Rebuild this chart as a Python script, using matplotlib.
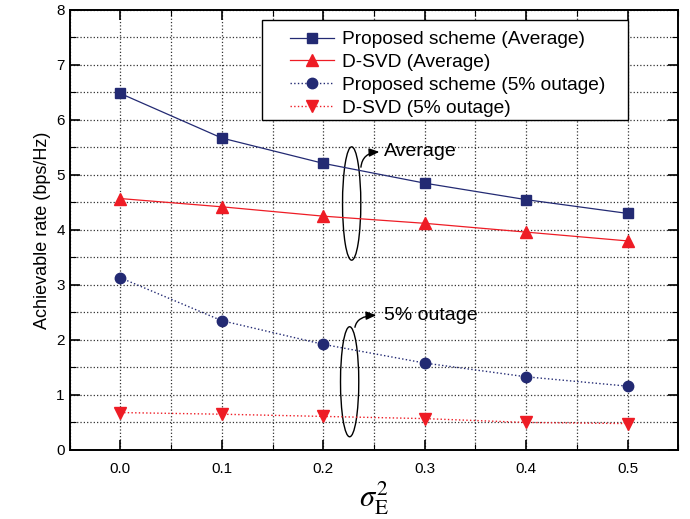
import matplotlib
matplotlib.use("Agg")
import matplotlib.pyplot as plt
from matplotlib.patches import Ellipse, Rectangle
from matplotlib.ticker import MultipleLocator, FormatStrFormatter

plt.rcParams['font.family'] = ['Liberation Sans', 'DejaVu Sans']
plt.rcParams['mathtext.fontset'] = 'stix'

# data
sigma2 = [0.0, 0.1, 0.2, 0.3, 0.4, 0.5]
prop_avg = [6.48, 5.67, 5.21, 4.85, 4.55, 4.30]
dsvd_avg = [4.57, 4.42, 4.25, 4.12, 3.96, 3.80]
prop_out = [3.13, 2.35, 1.92, 1.58, 1.33, 1.16]
dsvd_out = [0.68, 0.65, 0.61, 0.57, 0.50, 0.48]

navy = '#232a73'
red = '#ee1c25'

fig = plt.figure(figsize=(6.9, 5.19), dpi=100)
ax = fig.add_axes([0.101, 0.133, 0.882, 0.848])

ax.plot(sigma2, prop_avg, '-', color=navy, lw=0.9, marker='s', ms=7,
        label='Proposed scheme (Average)')
ax.plot(sigma2, dsvd_avg, '-', color=red, lw=0.9, marker='^', ms=8,
        label='D-SVD (Average)')
ax.plot(sigma2, prop_out, ':', color=navy, lw=1.0, marker='o', ms=7.5,
        label='Proposed scheme (5% outage)')
ax.plot(sigma2, dsvd_out, ':', color=red, lw=1.0, marker='v', ms=8,
        label='D-SVD (5% outage)')

ax.set_xlim(-0.05, 0.55)
ax.set_ylim(0, 8)
ax.xaxis.set_major_locator(MultipleLocator(0.1))
ax.xaxis.set_minor_locator(MultipleLocator(0.05))
ax.yaxis.set_major_locator(MultipleLocator(1))
ax.yaxis.set_minor_locator(MultipleLocator(0.5))
ax.xaxis.set_major_formatter(FormatStrFormatter('%.1f'))
ax.tick_params(which='both', direction='in', top=True, right=True, labelsize=11)
ax.tick_params(which='major', length=7, width=1.2)
ax.tick_params(which='minor', length=4, width=0.8)
ax.tick_params(axis='x', pad=9)
for s in ax.spines.values():
    s.set_linewidth(1.4)
ax.grid(which='both', ls=':', color='#333333', lw=0.9)
ax.set_axisbelow(True)

ax.set_ylabel('Achievable rate (bps/Hz)', fontsize=13)
ax.set_xlabel(r'$\sigma_{\mathrm{E}}^{2}$', fontsize=22, labelpad=2)

# legend box drawn separately so the padding matches the original
ax.add_patch(Rectangle((0.316, 0.75), 0.602, 0.227, transform=ax.transAxes,
                       facecolor='white', edgecolor='black', lw=1.0, zorder=4.5))
leg = ax.legend(loc='upper left', bbox_to_anchor=(0.362, 0.952), fontsize=13.8,
                frameon=False, borderpad=0, labelspacing=0.28,
                handlelength=2.3, handletextpad=0.4, borderaxespad=0)

# annotation ellipses and arrows
ax.add_patch(Ellipse((0.228, 4.48), 0.018, 2.06, fill=False, ec='black', lw=1))
ax.add_patch(Ellipse((0.226, 1.24), 0.018, 2.0, fill=False, ec='black', lw=1))
ax.annotate('', xy=(0.258, 5.42), xytext=(0.237, 5.09),
            arrowprops=dict(arrowstyle='-|>,head_length=0.6,head_width=0.25',
                            color='black', lw=1,
                            connectionstyle='angle3,angleA=90,angleB=0'))
ax.annotate('', xy=(0.255, 2.45), xytext=(0.231, 2.18),
            arrowprops=dict(arrowstyle='-|>,head_length=0.6,head_width=0.25',
                            color='black', lw=1,
                            connectionstyle='angle3,angleA=90,angleB=0'))
ax.text(0.26, 5.42, 'Average', fontsize=14, va='center', ha='left')
ax.text(0.26, 2.45, '5% outage', fontsize=14, va='center', ha='left')

fig.savefig('out.png', dpi=100)
